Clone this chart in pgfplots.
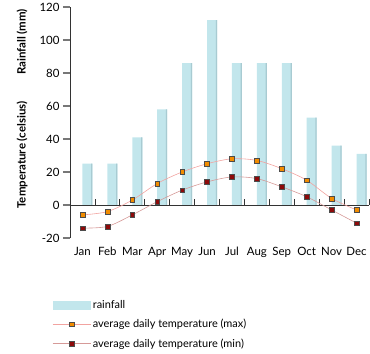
\documentclass[border=0pt]{standalone}
\usepackage{fontspec}
\setmainfont{Lato}
\usepackage{pgfplots}
\pgfplotsset{compat=1.18}
\definecolor{barfill}{HTML}{C2E6EC}
\definecolor{baredge}{HTML}{A8CBD2}
\definecolor{maxline}{HTML}{F2A3A0}
\definecolor{minline}{HTML}{D69A98}
\definecolor{maxmark}{HTML}{F28C00}
\definecolor{minmark}{HTML}{8E0A0A}
\definecolor{axisgray}{HTML}{333333}
\definecolor{tickgray}{HTML}{777777}
\begin{document}
\begin{tikzpicture}[x=1bp,y=1bp]
\path[use as bounding box] (0,0) rectangle (370,354);
\begin{axis}[
  at={(70bp,116bp)}, anchor=south west,
  scale only axis, width=299bp, height=231bp,
  xmin=-0.5, xmax=11.5, ymin=-20, ymax=120,
  axis x line=bottom, x axis line style={draw=none},
  axis y line=left, y axis line style={draw=axisgray, line width=0.8pt, -},
  xtick={0,...,11},
  xticklabels={Jan,Feb,Mar,Apr,May,Jun,Jul,Aug,Sep,Oct,Nov,Dec},
  x tick style={draw=none},
  ytick={-20,0,20,40,60,80,100,120},
  y tick style={draw=tickgray, line width=1.4pt},
  tick align=outside, major tick length=7bp,
  tick label style={font=\fontsize{11.5}{12}\selectfont},
  /pgf/number format/assume math mode=true,
  xticklabel style={yshift=1bp},
  legend style={at={(-0.06,-0.26)}, anchor=north west, draw=none, fill=none,
    inner sep=0pt, font=\fontsize{11}{12}\selectfont, row sep=5.5bp,
    /tikz/every even column/.append style={column sep=5bp}},
  legend cell align=left,
  clip=false,
]
\addplot[ybar, bar width=0.4, bar shift=0, fill=barfill, draw=none,
  legend image code/.code={\fill[barfill] (0bp,-4.5bp) rectangle (38bp,4.5bp);}]
  coordinates {(0.2,25) (1.2,25) (2.2,41) (3.2,58) (4.2,86) (5.2,112)
               (6.2,86) (7.2,86) (8.2,86) (9.2,53) (10.2,36) (11.2,31)};
\addlegendentry{rainfall}
\addplot[ybar, bar width=0.05, bar shift=0.175, fill=baredge, draw=none, forget plot]
  coordinates {(0.2,25) (1.2,25) (2.2,41) (3.2,58) (4.2,86) (5.2,112)
               (6.2,86) (7.2,86) (8.2,86) (9.2,53) (10.2,36) (11.2,31)};
\draw[axisgray, line width=0.8pt] (axis cs:-0.5,0) -- (axis cs:11.5,0);
\pgfplotsinvokeforeach{0.5,1.5,2.5,3.5,4.5,5.5,6.5,7.5,8.5,9.5,10.5,11.5}{
  \draw[axisgray, line width=0.8pt] (axis cs:#1,0) -- ([yshift=6bp]axis cs:#1,0);
}
\addplot[smooth, tension=0.5, color=maxline, line width=0.6pt, mark=square*,
  mark size=2.4bp, mark options={fill=maxmark, draw=black!70, line width=0.4pt},
  legend image code/.code={\draw[maxline, line width=0.6pt] (0bp,0bp) -- (38bp,0bp);
    \draw[fill=maxmark, draw=black!70, line width=0.4pt] (16.5bp,-2.3bp) rectangle (21.5bp,2.3bp);}]
  coordinates {(0,-6) (1,-4) (2,3) (3,13) (4,20) (5,25) (6,28) (7,27) (8,22) (9,15) (10,4) (11,-3)};
\addlegendentry{average daily temperature (max)}
\addplot[smooth, tension=0.5, color=minline, line width=0.6pt, mark=square*,
  mark size=2.4bp, mark options={fill=minmark, draw=black!70, line width=0.4pt},
  legend image code/.code={\draw[minline, line width=0.6pt] (0bp,0bp) -- (38bp,0bp);
    \draw[fill=minmark, draw=black!70, line width=0.4pt] (16.5bp,-2.3bp) rectangle (21.5bp,2.3bp);}]
  coordinates {(0,-14) (1,-13) (2,-6) (3,2) (4,9) (5,14) (6,17) (7,16) (8,11) (9,5) (10,-3) (11,-11)};
\addlegendentry{average daily temperature (min)}
\end{axis}
\node[rotate=90, font=\bfseries\fontsize{11.5}{12}\selectfont] at (22,312) {Rainfall (mm)};
\node[rotate=90, font=\bfseries\fontsize{11.5}{12}\selectfont] at (22,199) {Temperature (celsius)};
\end{tikzpicture}
\end{document}
